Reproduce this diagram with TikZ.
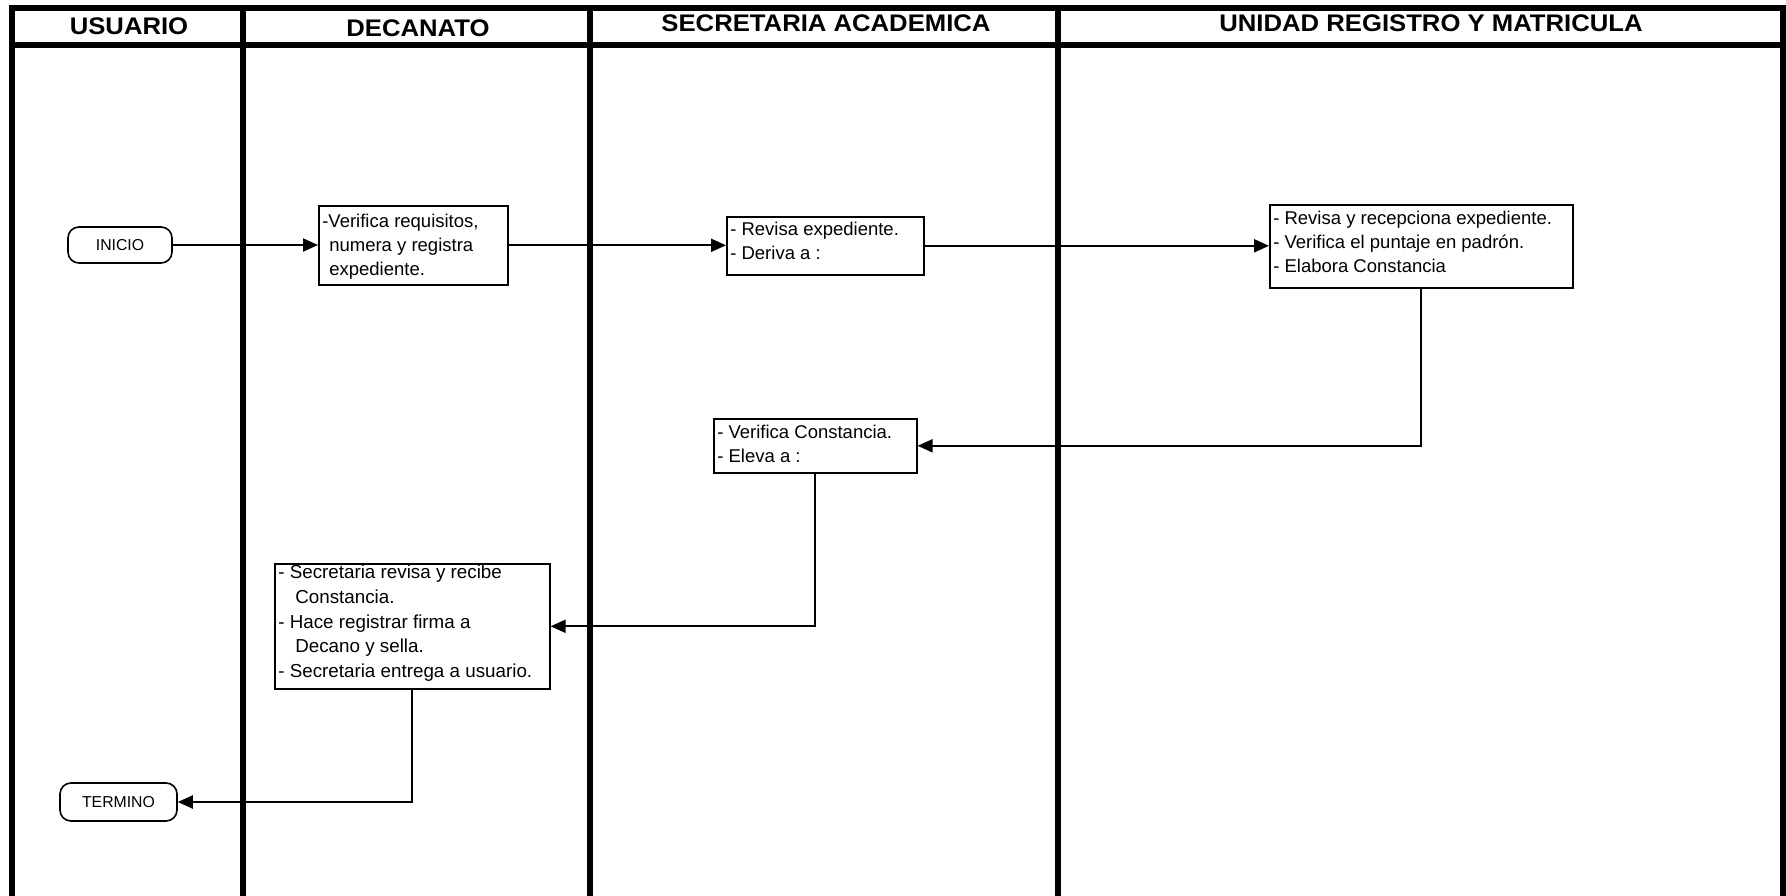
\documentclass[tikz,border=0pt]{standalone}
\usepackage{fontspec}
\setmainfont{Liberation Sans}
\newfontfamily\headfont[FakeStretch=1.07]{Liberation Sans}
\usetikzlibrary{arrows.meta}

% text of a process box: width, height, first baseline offset, size, leading, lines
\newcommand{\boxlines}[6]{%
  \parbox[t][#2][t]{#1}{\fontsize{#4}{#5}\selectfont\raggedright\leftskip=3.5pt
    \rule{0pt}{#3}#6}}

\begin{document}
\begin{tikzpicture}[x=1pt,y=-1pt,
  lane/.style={line width=5.5pt, line join=miter},
  head/.style={font=\headfont\bfseries\fontsize{24}{28}\selectfont, anchor=base, inner sep=0pt},
  stepbox/.style={draw, line width=1.6pt, inner sep=0pt, anchor=north west},
  term/.style={draw, line width=1.6pt, rounded corners=11pt, inner sep=0pt,
    font=\fontsize{15.8}{19}\selectfont},
  flow/.style={line width=2pt, -{Triangle[length=15pt,width=13pt]}},
]
\useasboundingbox[fill=white] (0,0) rectangle (1786,896);

% swimlane frame
\draw[lane] (12,896) -- (12,8) -- (1783,8) -- (1783,896);
\draw[lane] (12,45) -- (1783,45);
\foreach \lx in {243,590,1058} \draw[lane] (\lx,8) -- (\lx,896);

% lane titles
\node[head] (hu) at (129,35) {USUARIO};
\node[head] (hd) at (418,37) {DECANATO};
\node[head] (hs) at (826,32) {SECRETARIA ACADEMICA};
\node[head] (hr) at (1431,32) {UNIDAD REGISTRO Y MATRICULA};

% terminals
\node[term, minimum width=104pt, minimum height=36pt] (ini) at (120,245) {INICIO};
\node[term, minimum width=117pt, minimum height=38pt] (fin) at (118.5,802) {TERMINO};

% process steps
\node[stepbox] (b1) at (318,205) {\boxlines{189pt}{79pt}{22pt}{18.5}{23.7}{%
  -Verifica requisitos,\\ \hspace*{7pt}numera y registra\\ \hspace*{7pt}expediente.}};
\node[stepbox] (b2) at (726,216) {\boxlines{197pt}{58pt}{19pt}{18.5}{23.5}{%
  - Revisa expediente.\\ - Deriva a :}};
\node[stepbox] (b3) at (1269,204) {\boxlines{303pt}{83pt}{20pt}{18.5}{23.7}{%
  - Revisa y recepciona expediente.\\ - Verifica el puntaje en padrón.\\ - Elabora Constancia}};
\node[stepbox] (b4) at (713,418) {\boxlines{203pt}{54pt}{20pt}{18.5}{23.4}{%
  - Verifica Constancia.\\ - Eleva a :}};
\node[stepbox] (b5) at (274,563) {\boxlines{275pt}{125pt}{15pt}{18.8}{24.7}{%
  - Secretaria revisa y recibe\\ \hspace*{17pt}Constancia.\\ - Hace registrar firma a\\
  \hspace*{17pt}Decano y sella.\\ - Secretaria entrega a usuario.}};

% flow
\draw[flow] (ini.east) -- (ini.east -| b1.west);
\draw[flow] (b1.east) -- (b1.east -| b2.west);
\draw[flow] (b2.east) -- (b2.east -| b3.west);
\draw[flow] (b3.south) |- (b4.east);
\draw[flow] (b4.south) |- (b5.east);
\draw[flow] (b5.south) |- (fin.east);
\end{tikzpicture}
\end{document}
